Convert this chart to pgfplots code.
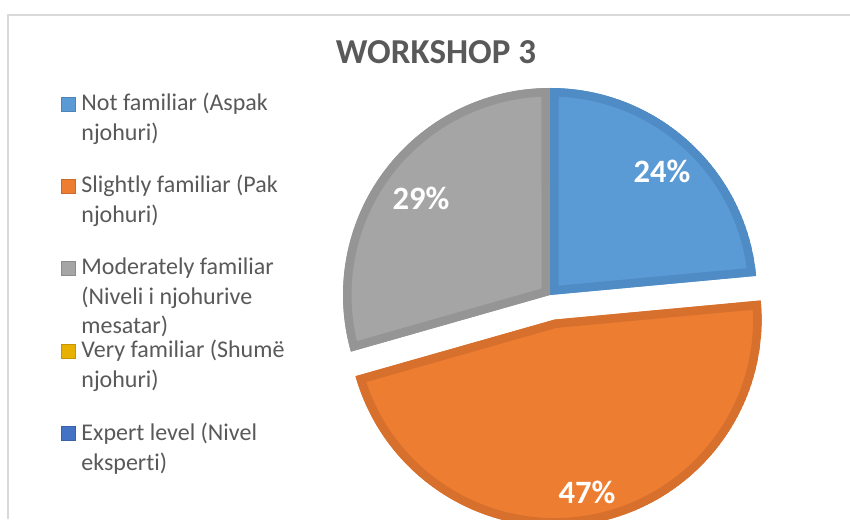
\documentclass[border=0pt]{standalone}
\usepackage{fontspec}
\setmainfont{Carlito}[Ligatures=NoCommon]
\usepackage{pgfplots}
\usepackage{pgfplotstable}
\pgfplotsset{compat=1.18}

\definecolor{blueF}{HTML}{5B9BD5}
\definecolor{blueB}{HTML}{4F8BC4}
\definecolor{orangeF}{HTML}{ED7D31}
\definecolor{orangeB}{HTML}{D6702C}
\definecolor{grayF}{HTML}{A5A5A5}
\definecolor{grayB}{HTML}{959595}
\definecolor{yellowF}{HTML}{E8B000}
\definecolor{dblueF}{HTML}{4472C4}
\definecolor{txt}{HTML}{595959}
\definecolor{frame}{HTML}{D9D9D9}

\pgfplotstableread[col sep=comma]{
category,value,explode
Not familiar,23.53,0
Slightly familiar,47.06,25
Moderately familiar,29.41,0
Very familiar,0,0
Expert level,0,0
}\piedata

% one pie slice: centre x, centre y, start angle, end angle, fill, border
\newcommand{\pieslice}[6]{%
  \begin{scope}
    \clip (axis cs:#1,#2) -- (axis cs:{#1+207*cos(#3)},{#2+207*sin(#3)}) arc[start angle=#3, end angle=#4, radius=103.5pt] -- cycle;
    \fill[#5] (axis cs:#1,#2) -- (axis cs:{#1+207*cos(#3)},{#2+207*sin(#3)}) arc[start angle=#3, end angle=#4, radius=103.5pt] -- cycle;
    \draw[#6, line width=8.5pt, line join=miter] (axis cs:#1,#2) -- (axis cs:{#1+207*cos(#3)},{#2+207*sin(#3)}) arc[start angle=#3, end angle=#4, radius=103.5pt] -- cycle;
  \end{scope}}

\newcommand{\legsq}[2]{% baseline (image px), colour
  \fill[#2, draw=#2!85!black, line width=0.4pt] (axis cs:61,{519-#1}) rectangle (axis cs:75,{519-#1+14});}
\newcommand{\legtx}[2]{% baseline, text
  \node[anchor=base west, inner sep=0pt, text=txt, font=\fontsize{12}{14}\selectfont] at (axis cs:81,{519-#1}) {#2};}

\begin{document}
\begin{tikzpicture}
\pgfplotstablegetelem{0}{value}\of\piedata \pgfmathsetmacro\vA{\pgfplotsretval}
\pgfplotstablegetelem{1}{value}\of\piedata \pgfmathsetmacro\vB{\pgfplotsretval}
\pgfplotstablegetelem{2}{value}\of\piedata \pgfmathsetmacro\vC{\pgfplotsretval}
\pgfplotstablegetelem{3}{value}\of\piedata \pgfmathsetmacro\vD{\pgfplotsretval}
\pgfplotstablegetelem{4}{value}\of\piedata \pgfmathsetmacro\vE{\pgfplotsretval}
\pgfplotstablegetelem{1}{explode}\of\piedata \pgfmathsetmacro\exB{\pgfplotsretval}
\pgfmathsetmacro\tot{\vA+\vB+\vC+\vD+\vE}
\pgfmathsetmacro\aA{90}
\pgfmathsetmacro\aB{\aA-(\vA/\tot)*360}
\pgfmathsetmacro\aC{\aB-(\vB/\tot)*360}
\pgfmathsetmacro\aD{\aC-(\vC/\tot)*360}
\pgfmathsetmacro\mB{(\aB+\aC)/2}
\pgfmathsetmacro\oxB{550+\exB*cos(\mB)}
\pgfmathsetmacro\oyB{224+\exB*sin(\mB)}
\begin{axis}[
  x=0.5pt, y=0.5pt,
  xmin=0, xmax=850, ymin=0, ymax=519,
  hide axis, clip=false,
]
\coordinate (BL) at (axis cs:0,0);
\coordinate (TR) at (axis cs:850,519);
% chart frame
\draw[frame, line width=1pt] (axis cs:8,0) -- (axis cs:8,504) -- (axis cs:850,504);
% title
\node[anchor=base, inner sep=0pt, text=txt, font=\bfseries\fontsize{17.5}{21}\selectfont] at (axis cs:436,455) {WORKSHOP 3};
% slices
\pieslice{550}{224}{\aA}{\aB}{blueF}{blueB}
\pieslice{\oxB}{\oyB}{\aB}{\aC}{orangeF}{orangeB}
\pieslice{550}{224}{\aC}{\aD}{grayF}{grayB}
% data labels
\node[anchor=base, inner sep=0pt, text=white, font=\bfseries\fontsize{16.3}{19}\selectfont] at (axis cs:662,{519-183}) {24\%};
\node[anchor=base, inner sep=0pt, text=white, font=\bfseries\fontsize{16.3}{19}\selectfont] at (axis cs:587,{519-503}) {47\%};
\node[anchor=base, inner sep=0pt, text=white, font=\bfseries\fontsize{16.3}{19}\selectfont] at (axis cs:421,{519-210}) {29\%};
% legend
\legsq{111}{blueF}
\legtx{111}{Not familiar (Aspak}
\legtx{141}{njohuri)}
\legsq{193}{orangeF}
\legtx{193}{Slightly familiar (Pak}
\legtx{223}{njohuri)}
\legsq{275}{grayF}
\legtx{275}{Moderately familiar}
\legtx{305}{(Niveli i njohurive}
\legtx{334}{mesatar)}
\legsq{358}{yellowF}
\legtx{358}{Very familiar (Shumë}
\legtx{388}{njohuri)}
\legsq{440}{dblueF}
\legtx{440}{Expert level (Nivel}
\legtx{470}{eksperti)}
\end{axis}
\pgfresetboundingbox
\useasboundingbox (BL) rectangle (TR);
\end{tikzpicture}
\end{document}
